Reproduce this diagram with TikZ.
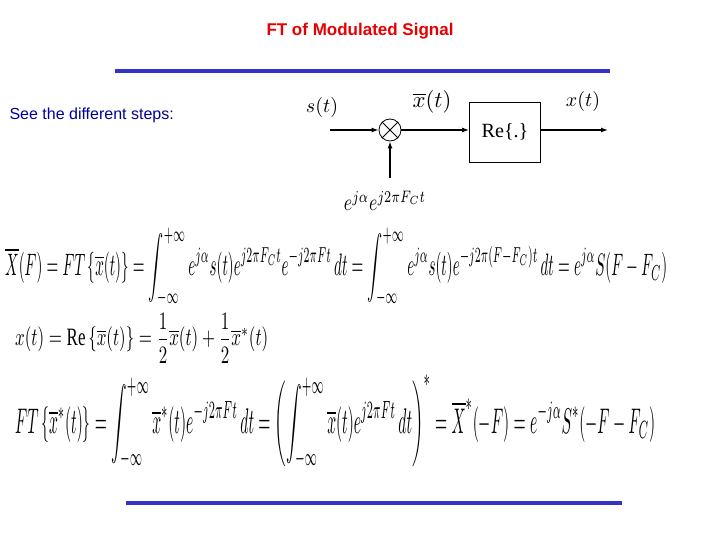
\documentclass[tikz,border=0pt]{standalone}
\usepackage{amsmath,graphicx}
\usepackage{fontspec}
\setmainfont{Liberation Serif}
\setsansfont{Liberation Sans}
\usetikzlibrary{arrows.meta}
\tikzset{sig/.style={line width=1.3pt,-{Latex[length=7pt,width=5pt]}},
blu/.style={line width=3.5pt,draw={rgb,255:red,51;green,51;blue,204}},
lab/.style={inner sep=1pt}}
\begin{document}
\begin{tikzpicture}[x=1pt,y=-1pt]
\useasboundingbox (0,0) rectangle (720,540);
\node[font=\sffamily\bfseries\fontsize{17}{19}\selectfont,text={rgb,255:red,230;green,0;blue,0}] (title) at (360,31) {FT of Modulated Signal};
\coordinate (l1a) at (115,71); \coordinate (l1b) at (610,71);
\draw[blu] (l1a) -- (l1b);
\coordinate (l2a) at (126,503); \coordinate (l2b) at (622,503);
\draw[blu] (l2a) -- (l2b);
\node[anchor=west,font=\sffamily\fontsize{16}{18}\selectfont,text={rgb,255:red,0;green,0;blue,153}] (see) at (6,115) {See the different steps:};
% block diagram
\coordinate (in) at (330,130);
\node[circle,draw,line width=0.8pt,minimum size=22pt,inner sep=0pt] (mul) at (390,130) {};
\draw[line width=0.8pt] (mul.north west) -- (mul.south east) (mul.north east) -- (mul.south west);
\node[draw,line width=0.8pt,minimum width=71pt,minimum height=60pt] (re) at (505,132) {\resizebox{!}{14pt}{Re\{.\}}};
\coordinate (out) at (608,130);
\coordinate (lo) at (390,178);
\draw[sig] (in) -- (mul.west);
\draw[sig] (mul.east) -- (re.west|-mul);
\draw[sig] (re.east|-mul) -- (out);
\draw[sig] (lo) -- (mul.south);
\node[lab] (st) at (322,108) {\resizebox{!}{15pt}{$s(t)$}};
\node[lab] (xb) at (432,102) {\resizebox{!}{17pt}{$\overline{x}(t)$}};
\node[lab] (xt) at (583,102) {\resizebox{!}{15pt}{$x(t)$}};
\node[lab] (ex) at (385,201) {\resizebox{82pt}{20pt}{$e^{j\alpha}e^{j2\pi F_C t}$}};
% equations
\node[anchor=west,inner sep=0pt] (eq1) at (5,267) {\resizebox{662pt}{48pt}{$\overline{X}(F)=FT\left\{\overline{x}(t)\right\}=\displaystyle\int_{-\infty}^{+\infty} e^{j\alpha}s(t)e^{j2\pi F_C t}e^{-j2\pi F t}\,dt=\int_{-\infty}^{+\infty} e^{j\alpha}s(t)e^{-j2\pi(F-F_C)t}\,dt=e^{j\alpha}S(F-F_C)$}};
\node[anchor=west,inner sep=0pt] (eq2) at (15,338) {\resizebox{253pt}{33pt}{$x(t)=\mathrm{Re}\left\{\overline{x}(t)\right\}=\dfrac{1}{2}\overline{x}(t)+\dfrac{1}{2}\overline{x}^{*}(t)$}};
\node[anchor=west,inner sep=0pt] (eq3) at (15,422) {\resizebox{640pt}{58pt}{$FT\left\{\overline{x}^{*}(t)\right\}=\displaystyle\int_{-\infty}^{+\infty}\overline{x}^{*}(t)e^{-j2\pi F t}\,dt=\left(\int_{-\infty}^{+\infty}\overline{x}(t)e^{j2\pi F t}\,dt\right)^{*}=\overline{X}^{*}(-F)=e^{-j\alpha}S^{*}(-F-F_C)$}};
\end{tikzpicture}
\end{document}
